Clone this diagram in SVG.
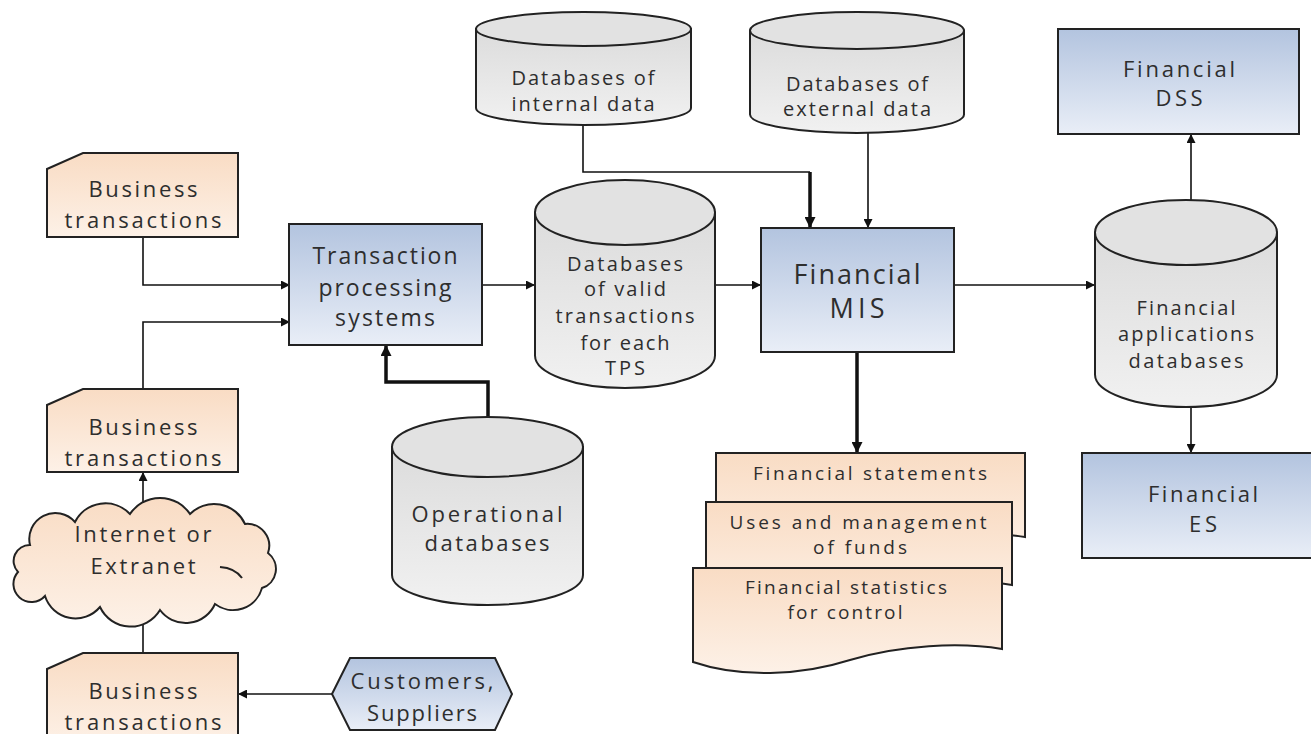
<svg xmlns="http://www.w3.org/2000/svg" width="1311" height="734" viewBox="0 0 1311 734">
<defs>
<linearGradient id="gPeach" x1="0" y1="0" x2="0" y2="1"><stop offset="0" stop-color="#f9dcc4"/><stop offset="1" stop-color="#fdf1e7"/></linearGradient>
<linearGradient id="gBlue" x1="0" y1="0" x2="0" y2="1"><stop offset="0" stop-color="#b3c4df"/><stop offset="1" stop-color="#e9eef7"/></linearGradient>
<linearGradient id="gGray" x1="0" y1="0" x2="0" y2="1"><stop offset="0" stop-color="#dcdcdc"/><stop offset="1" stop-color="#f1f1f1"/></linearGradient>
<marker id="arr" viewBox="0 0 10 10" refX="10" refY="5" markerWidth="9" markerHeight="9" markerUnits="userSpaceOnUse" orient="auto"><path d="M0,0 L10,5 L0,10 Z" fill="#111"/></marker>
<marker id="arrB" viewBox="0 0 10 10" refX="10" refY="5" markerWidth="11" markerHeight="11" markerUnits="userSpaceOnUse" orient="auto"><path d="M0,0 L10,5 L0,10 Z" fill="#111"/></marker>
<style>
.pe{fill:url(#gPeach);stroke:#222;stroke-width:2}
.bl{fill:url(#gBlue);stroke:#222;stroke-width:2}
.gr{fill:url(#gGray);stroke:#222;stroke-width:2}
.top{fill:#e2e2e2;stroke:#222;stroke-width:2}
.c{fill:none;stroke:#111;stroke-width:1.6;marker-end:url(#arr)}
.ct{fill:none;stroke:#111;stroke-width:3.5;marker-end:url(#arrB)}
.cn{fill:none;stroke:#111;stroke-width:1.6}
text{font-family:"Open Sans","Noto Sans","DejaVu Sans",sans-serif;fill:#2e2e2e;text-anchor:middle;dominant-baseline:central}
.f20{font-size:22px}.f18{font-size:20px}.f17{font-size:19px}.f22{font-size:23px}.f24{font-size:27px}
</style>
</defs>

<g id="connectors">
<path class="c" d="M143,237 V285 H290"/>
<path class="c" d="M143,389 V322 H290"/>
<path class="c" d="M143,514 V472"/>
<path class="c" d="M143,653 V609"/>
<path class="c" d="M332,694 H238"/>
<path class="ct" d="M488,417 V382 H386 V345"/>
<path class="c" d="M482,285 H535"/>
<path class="c" d="M715,285 H761"/>
<path class="cn" d="M583,125 V172 H810"/>
<path class="ct" d="M810,172 V228"/>
<path class="c" d="M868,133 V228"/>
<path class="c" d="M954,285 H1095"/>
<path class="ct" d="M857,352 V453"/>
<path class="c" d="M1191,200 V134"/>
<path class="c" d="M1191,407 V453"/>
</g>

<g id="biz1"><path class="pe" d="M47,169 L83,153 H238 V237 H47 Z"/>
<text class="f20" x="143" y="188" textLength="109" lengthAdjust="spacing">Business</text>
<text class="f20" x="143" y="219" textLength="157" lengthAdjust="spacing">transactions</text></g>

<g id="biz2"><path class="pe" d="M47,405 L83,389 H238 V472 H47 Z"/>
<text class="f20" x="143" y="426" textLength="109" lengthAdjust="spacing">Business</text>
<text class="f20" x="143" y="457" textLength="157" lengthAdjust="spacing">transactions</text></g>

<g id="cloud">
<path class="pe" d="M30,545 A26,26 0 0 1 75,522 A34,34 0 0 1 130,514 A36,36 0 0 1 190,514 A34,34 0 0 1 245,524 A22,22 0 0 1 268,553 A20,20 0 0 1 262,588 A30,30 0 0 1 215,604 A32,32 0 0 1 160,610 A34,34 0 0 1 100,607 A32,32 0 0 1 45,596 A18,18 0 0 1 18,572 A16,16 0 0 1 30,545 Z"/>
<path d="M220,567 Q235,568 242,578" fill="none" stroke="#222" stroke-width="2"/>
<text class="f20" x="143" y="533" textLength="137" lengthAdjust="spacing">Internet or</text>
<text class="f20" x="143" y="565" textLength="105" lengthAdjust="spacing">Extranet</text></g>

<g id="biz3"><path class="pe" d="M47,669 L83,653 H238 V745 H47 Z"/>
<text class="f20" x="143" y="690" textLength="109" lengthAdjust="spacing">Business</text>
<text class="f20" x="143" y="721" textLength="157" lengthAdjust="spacing">transactions</text></g>

<g id="customers"><path class="bl" d="M332,694 L350,658 H495 L512,694 L495,730 H350 Z"/>
<text class="f20" x="422" y="680" textLength="143" lengthAdjust="spacing">Customers,</text>
<text class="f20" x="422" y="712" textLength="110" lengthAdjust="spacing">Suppliers</text></g>

<g id="tps"><rect class="bl" x="289" y="224" width="193" height="121"/>
<text class="f22" x="385" y="255" textLength="145" lengthAdjust="spacing">Transaction</text>
<text class="f22" x="385" y="287" textLength="133" lengthAdjust="spacing">processing</text>
<text class="f22" x="385" y="317" textLength="100" lengthAdjust="spacing">systems</text></g>

<g id="operational">
<path class="gr" d="M392,447 V575 A95.5,30 0 0 0 583,575 V447 Z"/>
<ellipse class="top" cx="487.5" cy="447" rx="95.5" ry="30"/>
<text class="f20" x="487" y="513" textLength="151" lengthAdjust="spacing">Operational</text>
<text class="f20" x="487" y="542" textLength="125" lengthAdjust="spacing">databases</text></g>

<g id="validdb">
<path class="gr" d="M535,212.5 V355.5 A90,32.5 0 0 0 715,355.5 V212.5 Z"/>
<ellipse class="top" cx="625" cy="212.5" rx="90" ry="32.5"/>
<text class="f18" x="625" y="263" textLength="116" lengthAdjust="spacing">Databases</text>
<text class="f18" x="625" y="288" textLength="82" lengthAdjust="spacing">of valid</text>
<text class="f18" x="625" y="315" textLength="139" lengthAdjust="spacing">transactions</text>
<text class="f18" x="625" y="342" textLength="89" lengthAdjust="spacing">for each</text>
<text class="f18" x="625" y="367" textLength="40" lengthAdjust="spacing">TPS</text></g>

<g id="internaldb">
<path class="gr" d="M476,29 V108 A107.5,17 0 0 0 691,108 V29 Z"/>
<ellipse class="top" cx="583.5" cy="29" rx="107.5" ry="17"/>
<text class="f18" x="583" y="77" textLength="143" lengthAdjust="spacing">Databases of</text>
<text class="f18" x="583" y="103" textLength="143" lengthAdjust="spacing">internal data</text></g>

<g id="externaldb">
<path class="gr" d="M750,30.5 V114.5 A107,18.5 0 0 0 964,114.5 V30.5 Z"/>
<ellipse class="top" cx="857" cy="30.5" rx="107" ry="18.5"/>
<text class="f18" x="857" y="83" textLength="142" lengthAdjust="spacing">Databases of</text>
<text class="f18" x="857" y="108" textLength="148" lengthAdjust="spacing">external data</text></g>

<g id="mis"><rect class="bl" x="761" y="228" width="193" height="124"/>
<text class="f24" x="857" y="273" textLength="127" lengthAdjust="spacing">Financial</text>
<text class="f24" x="857" y="307" textLength="55" lengthAdjust="spacing">MIS</text></g>

<g id="reports">
<path class="pe" d="M716,453 H1025 V537 C990,531 950,533 900,545 L716,560 Z"/>
<text class="f17" x="870" y="473" textLength="234" lengthAdjust="spacing">Financial statements</text>
<path class="pe" d="M706,502 H1012 V585 C975,579 935,581 885,593 L706,608 Z"/>
<text class="f17" x="858" y="522" textLength="257" lengthAdjust="spacing">Uses and management</text>
<text class="f17" x="860" y="547" textLength="94" lengthAdjust="spacing">of funds</text>
<path class="pe" d="M693,568 H1002 V649 C960,642 900,645 850,660 C800,676 740,678 693,662 Z"/>
<text class="f17" x="846" y="587" textLength="202" lengthAdjust="spacing">Financial statistics</text>
<text class="f17" x="845" y="612" textLength="115" lengthAdjust="spacing">for control</text></g>

<g id="appdb">
<path class="gr" d="M1095,232.5 V374.5 A91,32.5 0 0 0 1277,374.5 V232.5 Z"/>
<ellipse class="top" cx="1186" cy="232.5" rx="91" ry="32.5"/>
<text class="f18" x="1186" y="307" textLength="99" lengthAdjust="spacing">Financial</text>
<text class="f18" x="1186" y="333" textLength="136" lengthAdjust="spacing">applications</text>
<text class="f18" x="1186" y="360" textLength="115" lengthAdjust="spacing">databases</text></g>

<g id="dss"><rect class="bl" x="1058" y="29" width="241" height="105"/>
<text class="f20" x="1179" y="68" textLength="112" lengthAdjust="spacing">Financial</text>
<text class="f20" x="1179" y="97" textLength="47" lengthAdjust="spacing">DSS</text></g>

<g id="es"><rect class="bl" x="1082" y="453" width="240" height="105"/>
<text class="f20" x="1203" y="493" textLength="110" lengthAdjust="spacing">Financial</text>
<text class="f20" x="1203" y="523" textLength="28" lengthAdjust="spacing">ES</text></g>
</svg>
